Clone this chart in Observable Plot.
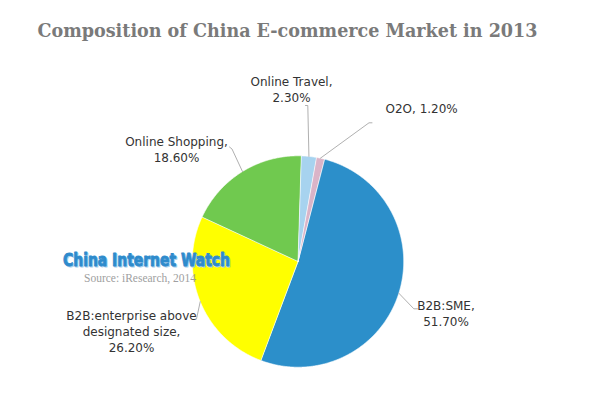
<!DOCTYPE html>
<html><head><meta charset="utf-8">
<script src="https://cdn.jsdelivr.net/npm/d3@7"></script>
<script src="https://cdn.jsdelivr.net/npm/@observablehq/plot@0.6"></script>
<style>body{margin:0;background:#fff}</style>
</head><body><div id="chart"></div>
<script>
// ---- data ----
const categories = ["B2B:SME", "B2B:enterprise above designated size", "Online Shopping", "Online Travel", "O2O"];
const labelTexts = ["B2B:SME,\n51.70%", "B2B:enterprise above\ndesignated size,\n26.20%", "Online Shopping,\n18.60%", "Online Travel,\n2.30%", "O2O, 1.20%"];
const shares = [51.7, 26.2, 18.6, 2.3, 1.2];
const colors = ["#2c8fca", "#ffff00", "#70c94f", "#a7d3ef", "#dab4c8"];
const titleText = "Composition of China E-commerce Market in 2013";
const watermark = "China Internet Watch";
const sourceText = "Source: iResearch, 2014";

// ---- layout ----
const W = 600, H = 397;
const CX = 297.5, CY = 261, R = 105.7, START = 14.4;
const labelPos = [
  {x: 445.5, y: 312, anchor: "middle"},
  {x: 131, y: 330, anchor: "middle"},
  {x: 176, y: 148, anchor: "middle"},
  {x: 291, y: 88, anchor: "middle"},
  {x: 385, y: 108.5, anchor: "start"}
];
const elbows = [
  [[413.3, 308.3], [417, 308.3]],
  [[196, 318.5]],
  [[231.5, 148.5], [229, 146.5]],
  [[307.3, 105], [305, 105]],
  [[368.5, 122.3], [371.5, 122.3]]
];

const total = d3.sum(shares);
const pt = (deg, r) => {
  const a = deg * Math.PI / 180;
  return [CX + r * Math.sin(a), CY - r * Math.cos(a)];
};

// slice polygons built from the shares
const slices = [];
const mids = [];
let acc = 0;
shares.forEach((v, i) => {
  const a0 = START + acc / total * 360;
  const a1 = START + (acc + v) / total * 360;
  acc += v;
  mids.push((a0 + a1) / 2);
  slices.push({cat: categories[i], x: CX, y: CY});
  const n = Math.max(2, Math.ceil((a1 - a0) / 0.5));
  for (let k = 0; k <= n; k++) {
    const [x, y] = pt(a0 + (a1 - a0) * k / n, R);
    slices.push({cat: categories[i], x, y});
  }
});

// connectors
const connectors = [];
categories.forEach((c, i) => {
  const [sx, sy] = pt(mids[i], R);
  connectors.push({cat: c, x: sx, y: sy});
  elbows[i].forEach(([x, y]) => connectors.push({cat: c, x, y}));
});

const labels = categories.map((c, i) => ({text: labelTexts[i], ...labelPos[i]}));

const chart = Plot.plot({
  width: W, height: H,
  margin: 0,
  x: {domain: [0, W], range: [0, W], axis: null},
  y: {domain: [0, H], range: [0, H], axis: null},
  color: {domain: categories, range: colors},
  style: {background: "#fff"},
  marks: [
    Plot.line(slices, {x: "x", y: "y", z: "cat", fill: "cat", stroke: "#fff", strokeWidth: 0.6, curve: "linear-closed"}),
    Plot.line(connectors, {x: "x", y: "y", z: "cat", stroke: "#b0b0b0", strokeWidth: 1, curve: "linear"}),
    Plot.text(labels.filter(d => d.anchor === "middle"), {x: "x", y: "y", text: "text", textAnchor: "middle", lineAnchor: "middle", lineHeight: 1.333, fontSize: 12, fontFamily: "DejaVu Sans", fill: "#333"}),
    Plot.text(labels.filter(d => d.anchor === "start"), {x: "x", y: "y", text: "text", textAnchor: "start", lineAnchor: "middle", fontSize: 12, fontFamily: "DejaVu Sans", fill: "#333"}),
    Plot.text([titleText], {x: () => 287, y: () => 30.5, text: d => d, textAnchor: "middle", lineAnchor: "middle", fontSize: 19, fontWeight: "bold", fontFamily: "DejaVu Serif", fill: "#7a7a7a"}),
    Plot.text([watermark], {x: () => 147, y: () => 261, text: d => d, textAnchor: "middle", lineAnchor: "middle", fontSize: 18, fontWeight: "bold", fontFamily: "Liberation Sans Narrow, DejaVu Sans Condensed", fill: "#a9cfee", stroke: "#a9cfee", strokeWidth: 0.8}),
    Plot.text([watermark], {x: () => 146, y: () => 260, text: d => d, textAnchor: "middle", lineAnchor: "middle", fontSize: 18, fontWeight: "bold", fontFamily: "Liberation Sans Narrow, DejaVu Sans Condensed", fill: "#2e8bcc", stroke: "#2e8bcc", strokeWidth: 0.8}),
    Plot.text([sourceText], {x: () => 139.5, y: () => 277.5, text: d => d, textAnchor: "middle", lineAnchor: "middle", fontSize: 12, fontFamily: "Liberation Serif", fill: "#a0a0a0"})
  ]
});
document.getElementById("chart").appendChild(chart);

// fit text widths to the reference
const fit = {[titleText]: 500, [watermark]: 167, [sourceText]: 112};
d3.select(chart).selectAll("text").each(function () {
  const w = fit[this.textContent];
  if (w) { this.setAttribute("textLength", w); this.setAttribute("lengthAdjust", "spacingAndGlyphs"); }
});
</script>
</body></html>
